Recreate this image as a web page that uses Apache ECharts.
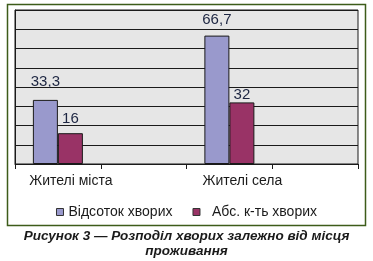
<!DOCTYPE html>
<html><head><meta charset="utf-8">
<script src="https://cdn.jsdelivr.net/npm/echarts@6/dist/echarts.min.js"></script>
<style>html,body{margin:0;padding:0;background:#fff}#c{width:373px;height:261px}</style>
</head><body><div id="c"></div>
<script>
var categories = ['Жителі міста', '', 'Жителі села', ''];
var seriesNames = ['Відсоток хворих', 'Абс. к-ть хворих'];
var percentValues = [33.3, null, 66.7, null];
var absValues = [16, null, 32, null];
var yTicks = {min: 0, max: 80, interval: 10};
var labelDist = [[11, null, 8, null], [7, null, 0, null]];

function mk(vals, dists) {
  return vals.map(function (v, i) {
    return v == null ? null : {value: v, label: {distance: dists[i]}};
  });
}
var chart = echarts.init(document.getElementById('c'));
var font = 'Liberation Sans, Arial, sans-serif';
chart.setOption({
  animation: false,
  textStyle: {fontFamily: font},
  grid: {left: 15, right: 15, top: 10, bottom: 97, show: true, backgroundColor: '#e6e6e6', borderColor: '#1a1a1a', borderWidth: 1},
  xAxis: {
    type: 'category', data: categories,
    axisLine: {lineStyle: {color: '#1a1a1a', width: 1}},
    axisTick: {show: true, interval: 0, length: 5, lineStyle: {color: '#1a1a1a'}},
    axisLabel: {interval: 0, margin: 10, fontSize: 14, color: '#1a1a1a', fontFamily: font,
      formatter: function (v) { return v ? '{a|' + v + '}' : ''; },
      rich: {a: {fontSize: 14, color: '#1a1a1a', fontFamily: font, padding: [0, 0, 0, 26]}}}
  },
  yAxis: {
    type: 'value', min: yTicks.min, max: yTicks.max, interval: yTicks.interval,
    axisLine: {show: true, lineStyle: {color: '#1a1a1a'}},
    axisTick: {show: false}, axisLabel: {show: false},
    splitLine: {lineStyle: {color: '#1a1a1a', width: 1}}
  },
  legend: {
    bottom: 37, left: 'center', itemWidth: 7, itemHeight: 7, itemGap: 20, icon: 'rect',
    itemStyle: {borderColor: '#333', borderWidth: 1},
    formatter: function (n) { return n === seriesNames[1] ? '{p|' + n + '}' : n; },
    textStyle: {fontSize: 14, color: '#1a1a1a', fontFamily: font,
      rich: {p: {fontSize: 14, color: '#1a1a1a', fontFamily: font, padding: [0, 0, 0, 7]}}},
    data: seriesNames
  },
  series: [
    {name: seriesNames[0], type: 'bar', data: mk(percentValues, labelDist[0]), barWidth: 25, barGap: '0%',
      itemStyle: {color: '#9999cc', borderColor: '#1a1a1a', borderWidth: 1},
      label: {show: true, position: 'top', fontSize: 15, color: '#1c2541', fontFamily: font,
        formatter: function (p) { return String(p.value).replace('.', ','); }}},
    {name: seriesNames[1], type: 'bar', data: mk(absValues, labelDist[1]), barWidth: 25,
      itemStyle: {color: '#993366', borderColor: '#1a1a1a', borderWidth: 1},
      label: {show: true, position: 'top', fontSize: 15, color: '#1c2541', fontFamily: font,
        formatter: function (p) { return String(p.value).replace('.', ','); }}}
  ],
  graphic: [
    {type: 'rect', shape: {x: 7.5, y: 4.5, width: 358, height: 221}, style: {fill: 'none', stroke: '#3d5c1a', lineWidth: 1.5}, z: 100},
    {type: 'text', left: 'center', top: 229, style: {text: 'Рисунок 3 — Розподіл хворих залежно від місця\nпроживання', textAlign: 'center', fontSize: 13.5, fontWeight: 'bold', fontStyle: 'italic', fontFamily: font, fill: '#1a1a1a', lineHeight: 15}}
  ]
});
</script></body></html>
